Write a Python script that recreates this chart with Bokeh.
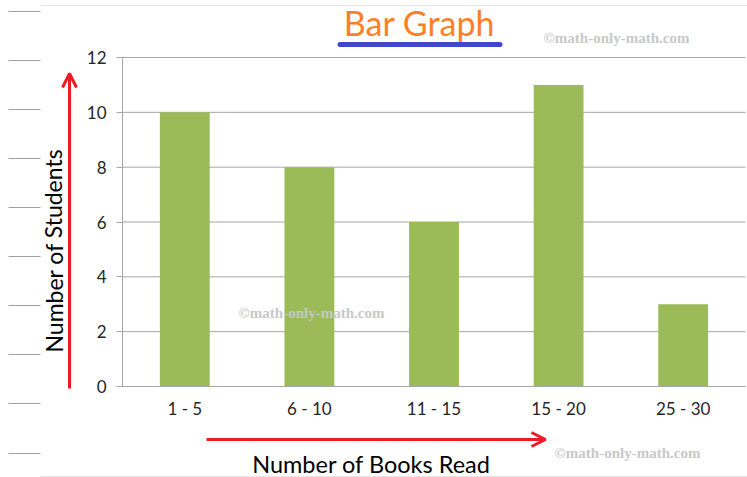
import numpy as np
from bokeh.plotting import figure
from bokeh.models import (ColumnDataSource, Range1d, Label, Arrow, OpenHead,
                          FixedTicker, LinearAxis)
from bokeh.embed import file_html
from bokeh.resources import INLINE

# ---- data ----
categories = ["1 - 5", "6 - 10", "11 - 15", "15 - 20", "25 - 30"]
students = [10, 8, 6, 11, 3]
y_ticks = [0, 2, 4, 6, 8, 10, 12]
title_text = "Bar Graph"
x_label_text = "Number of Books Read"
y_label_text = "Number of Students"
watermark_text = "\u00a9math-only-math.com"

n = len(categories)
xpos = np.arange(n) + 0.5            # category centres on a numeric scale
source = ColumnDataSource(data=dict(x=xpos, cat=categories, val=students))

W, H = 747, 477
# plot area in pixels: left 122, right 745, y=0 at 386, y=12 at 57
px_per_cat = (745 - 122) / n
px_per_y = (386 - 57) / 12
x_rng = Range1d(-122 / px_per_cat, (W - 122) / px_per_cat)
y_rng = Range1d(-(H - 386) / px_per_y, 386 / px_per_y)

p = figure(width=W, height=H, output_backend="svg", toolbar_location=None,
           x_range=x_rng, y_range=y_rng,
           x_axis_location=None, y_axis_location=None,
           min_border=0, min_border_left=0, min_border_right=0,
           min_border_top=0, min_border_bottom=0)
p.title.visible = False
p.outline_line_color = None
p.background_fill_color = "white"
p.border_fill_color = "white"
p.xgrid.visible = False
p.ygrid.visible = False

grid_col = "#A6A6A6"
# horizontal grid lines across the plot area
p.segment(x0=0, x1=n, y0=y_ticks, y1=y_ticks, line_color=grid_col, line_width=1)

p.vbar(x="x", top="val", width=0.4, source=source,
       fill_color="#9BBB59", line_color=None)

yax = LinearAxis(fixed_location=0, ticker=FixedTicker(ticks=y_ticks),
                 bounds=(0, 12))
yax.axis_line_color = grid_col
yax.major_tick_line_color = grid_col
yax.major_tick_out = 6
yax.major_tick_in = 0
yax.minor_tick_line_color = None
yax.major_label_standoff = 10
yax.major_label_text_font = "Lato"
yax.major_label_text_font_size = "17px"
yax.major_label_text_color = "#262626"
p.add_layout(yax, "left")

xax = LinearAxis(fixed_location=0, ticker=FixedTicker(ticks=list(xpos)),
                 bounds=(0, n),
                 major_label_overrides={float(v): c for v, c in zip(xpos, categories)})
xax.axis_line_color = grid_col
xax.major_tick_line_color = None
xax.major_tick_out = 0
xax.major_tick_in = 0
xax.minor_tick_line_color = None
xax.major_label_standoff = 11
xax.major_label_text_font = "Lato"
xax.major_label_text_font_size = "17px"
xax.major_label_text_color = "#262626"
p.add_layout(xax, "below")

# ---- decorations (screen units: origin at bottom-left of canvas) ----
def lab(x, y, text, **kw):
    p.add_layout(Label(x=x, y=y, x_units="screen", y_units="screen", text=text, **kw))

def seg(x0, y0, x1, y1, **kw):
    p.add_layout(Arrow(x_start=x0, y_start=y0, x_end=x1, y_end=y1,
                       start_units="screen", end_units="screen", **kw))

lab(419, 455, title_text, text_font="Lato", text_font_size="34px", text_color="#FF7F27",
    text_align="center", text_baseline="middle")
seg(339.5, 433, 499.5, 433, end=None, line_color="#3F48CC", line_width=5,
    line_cap="round")

lab(53, 227, y_label_text, text_font="Lato", text_font_size="23px", text_color="black",
    angle=1.5708, text_align="center", text_baseline="middle")
lab(371, 14, x_label_text, text_font="Lato", text_font_size="23.5px", text_color="black",
    text_align="center", text_baseline="middle")

red = "#ED1C24"
seg(69, 89, 69, 404, end=OpenHead(size=14, line_color=red, line_width=3),
    line_color=red, line_width=3)
seg(206, 38, 545, 38, end=OpenHead(size=14, line_color=red, line_width=3),
    line_color=red, line_width=3)

for (wx, wy) in [(616, 440), (311, 165), (627, 25)]:
    lab(wx, wy, watermark_text, text_font="Liberation Serif", text_font_size="15px",
        text_font_style="bold", text_color="#C8C8C8",
        text_align="center", text_baseline="middle")

for ly in [466, 417, 368, 319, 270, 221, 172, 123, 74, 24]:
    seg(8, ly, 40, ly, end=None, line_color="#A0A0A0", line_width=1)
seg(40, 472, W, 472, end=None, line_color="#E6E6E6", line_width=1)
seg(40, 1, W, 1, end=None, line_color="#E6E6E6", line_width=1)

open("out.html", "w").write(file_html(p, INLINE))
